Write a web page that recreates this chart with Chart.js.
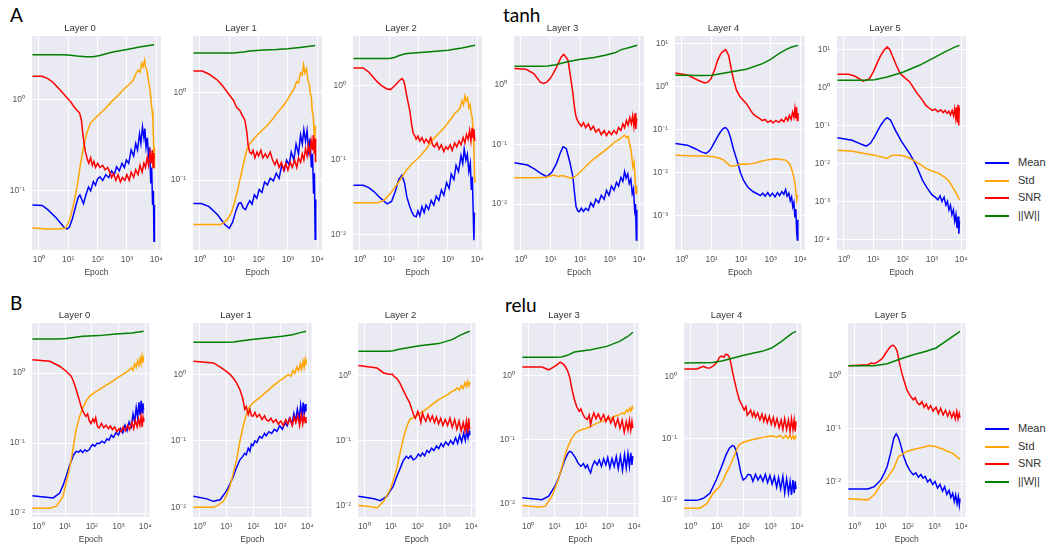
<!DOCTYPE html>
<html>
<head>
<meta charset="utf-8">
<script src="https://cdn.jsdelivr.net/npm/chart.js@4.4.0/dist/chart.umd.min.js"></script>
<style>
html,body{margin:0;padding:0;background:#fff;}
#fig{position:relative;width:1048px;height:548px;overflow:hidden;font-family:'Liberation Sans',Arial,sans-serif;}
.panel{position:absolute;}
.big{position:absolute;font-family:Lato,'Open Sans',sans-serif;font-size:19px;line-height:19px;color:#000;white-space:nowrap;}
.leg{position:absolute;left:985px;width:60px;font-size:11px;color:#333;}
.leg div{position:relative;height:17.6px;}
.leg i{position:absolute;left:0;top:8px;width:24px;height:2px;}
.leg span{position:absolute;left:33px;top:2px;line-height:13px;}
</style>
</head>
<body>
<div id="fig">
  <div class="big" style="left:10px;top:5px">A</div>
  <div class="big" style="left:503px;top:5px">tanh</div>
  <div class="big" style="left:10px;top:293px">B</div>
  <div class="big" style="left:505px;top:295px">relu</div>
  <div class="leg" id="legA" style="top:154px"></div>
  <div class="leg" id="legB" style="top:420px"></div>
</div>
<script>
/* Per-layer gradient statistics, tanh vs relu — log/log panels */

// ── Labels & ticks ──────────────────────────────────────────────────────────
const LAYERS = ['Layer 0','Layer 1','Layer 2','Layer 3','Layer 4','Layer 5'];
const SERIES = ['Mean','Std','SNR','||W||'];
const X_TICKS = [1,10,100,1000,10000];
const X_TICK_LABELS = ['10⁰','10¹','10²','10³','10⁴'];
const Y_DECADES = [1e-4,1e-3,1e-2,1e-1,1,10];
const Y_DECADE_LABELS = ['10⁻⁴','10⁻³','10⁻²','10⁻¹','10⁰','10¹'];
const X_LIMITS = [0.58,14500];
const TANH_YLIM = [[0.0224,4.98],[0.0158,4.5],[0.0063,4.55],[0.0017,6.5],[0.000158,14.7],[0.0000525,22.9]];
const RELU_YLIM = [[0.00877,5.18],[0.00714,6.01],[0.0066,6.49],[0.00617,6.55],[0.00525,7.59],[0.00214,9.7]];

// ── tanh data: [epoch, value] per layer ────────────────────────────────────
const TANH_MEAN = [
  [[0.6,0.07],[1.3,0.069],[2,0.062],[4,0.05],[7,0.04],[9,0.038],[11,0.04],[14,0.05],[18,0.068],[22,0.085],[25,0.09],[29,0.08],[33,0.072],[40,0.09],[49,0.11],[58,0.1],[72,0.126],[85,0.115],[100,0.135],[120,0.142],[150,0.13],[190,0.15],[240,0.14],[300,0.165],[370,0.15],[445,0.183],[550,0.165],[680,0.2],[820,0.18],[960,0.217],[1150,0.2],[1400,0.28],[1700,0.24],[2000,0.33],[2300,0.28],[2700,0.42],[3000,0.33],[3400,0.5],[3800,0.38],[4100,0.48],[4500,0.3],[5000,0.38],[5500,0.22],[6000,0.3],[6500,0.12],[7000,0.18],[7500,0.07],[8000,0.1],[8400,0.028],[8700,0.07]],
  [[0.6,0.054],[1.1,0.054],[2,0.05],[4,0.04],[7,0.031],[10,0.028],[13,0.033],[17,0.045],[21,0.054],[25,0.055],[30,0.048],[36,0.046],[42,0.052],[50,0.058],[60,0.053],[72,0.068],[87,0.062],[105,0.078],[130,0.072],[160,0.095],[200,0.088],[250,0.105],[320,0.098],[400,0.12],[500,0.105],[620,0.15],[750,0.13],[900,0.17],[1100,0.15],[1300,0.21],[1600,0.17],[1900,0.26],[2300,0.2],[2700,0.33],[3100,0.26],[3500,0.38],[4000,0.28],[4500,0.37],[5100,0.22],[5700,0.3],[6300,0.14],[6900,0.2],[7500,0.07],[8000,0.12],[8500,0.021],[8900,0.06]],
  [[0.6,0.046],[1.3,0.046],[2,0.043],[3,0.038],[5,0.031],[8.5,0.026],[12,0.028],[16,0.038],[21,0.055],[27,0.063],[33,0.05],[40,0.032],[50,0.024],[60,0.02],[70,0.018],[83,0.0175],[95,0.021],[110,0.018],[130,0.024],[155,0.02],[180,0.025],[220,0.022],[270,0.029],[330,0.025],[400,0.033],[490,0.029],[600,0.04],[730,0.034],[900,0.05],[1100,0.042],[1300,0.065],[1600,0.055],[1900,0.085],[2300,0.07],[2800,0.115],[3200,0.09],[3600,0.14],[4100,0.1],[4600,0.12],[5200,0.07],[5800,0.09],[6300,0.04],[6800,0.06],[7300,0.02],[7700,0.0085],[8000,0.02]],
  [[0.6,0.049],[1.66,0.045],[3,0.038],[4.5,0.033],[7.5,0.0286],[11,0.034],[16,0.048],[21,0.07],[26.5,0.091],[30,0.088],[34,0.085],[45,0.05],[57,0.0286],[65,0.015],[73,0.009],[85,0.0076],[94,0.0074],[110,0.0085],[130,0.0075],[155,0.0085],[190,0.0078],[230,0.0105],[280,0.009],[340,0.012],[425,0.0105],[520,0.014],[650,0.012],[780,0.017],[950,0.014],[1150,0.02],[1400,0.017],[1700,0.023],[2000,0.02],[2400,0.028],[2800,0.024],[3200,0.035],[3600,0.027],[4100,0.032],[4600,0.022],[5200,0.026],[5800,0.015],[6400,0.018],[7000,0.008],[7500,0.01],[8000,0.0025],[8300,0.008]],
  [[0.6,0.047],[1.5,0.043],[2.7,0.036],[4.5,0.03],[6.6,0.0275],[9,0.033],[12,0.047],[16,0.068],[20,0.0875],[25,0.105],[30,0.11],[36,0.095],[43,0.067],[55,0.035],[72,0.0193],[95,0.01],[120,0.0066],[170,0.0045],[250,0.0036],[350,0.0032],[450,0.0029],[540,0.0033],[650,0.0028],[800,0.0034],[950,0.0028],[1150,0.0033],[1400,0.0027],[1700,0.0034],[2000,0.0029],[2400,0.0036],[2800,0.0031],[3200,0.004],[3600,0.0028],[4100,0.0033],[4600,0.0022],[5100,0.0027],[5600,0.0016],[6100,0.002],[6600,0.0009],[7100,0.0014],[7600,0.0004],[8000,0.00027],[8300,0.0008]],
  [[0.6,0.048],[1.9,0.041],[4,0.032],[5.8,0.0286],[8,0.034],[11,0.05],[18,0.102],[25,0.145],[30,0.162],[39,0.138],[57,0.075],[94,0.037],[175,0.0183],[290,0.0091],[480,0.0036],[700,0.0022],[1030,0.00147],[1300,0.0013],[1600,0.0011],[1900,0.0014],[2200,0.001],[2600,0.0013],[3000,0.0008],[3400,0.001],[3800,0.0006],[4300,0.0008],[4800,0.00045],[5400,0.0006],[6000,0.0003],[6600,0.00045],[7200,0.0002],[7800,0.0004],[8300,0.00014],[8700,0.0003]]
];
const TANH_STD = [
  [[0.6,0.039],[2,0.038],[5,0.038],[8,0.039],[10,0.044],[12,0.052],[15,0.07],[20,0.11],[25,0.18],[33,0.3],[42,0.42],[56,0.546],[80,0.62],[120,0.7],[200,0.82],[300,0.95],[445,1.07],[700,1.25],[1000,1.4],[1300,1.5],[1630,1.63],[2000,1.9],[2400,2.1],[2800,2.0],[3200,2.5],[3600,2.3],[4000,2.7],[4400,2.2],[4800,2.1],[5300,1.7],[5900,1.4],[6300,1.2],[6800,0.9],[7300,0.75],[7700,0.6],[8100,0.35],[8500,0.18],[8700,0.3]],
  [[0.6,0.031],[2,0.031],[5,0.031],[7,0.033],[9,0.036],[12,0.043],[15,0.055],[19,0.075],[23,0.1],[30,0.15],[39,0.22],[50,0.26],[65,0.29],[100,0.34],[180,0.41],[300,0.5],[450,0.6],[650,0.69],[1000,0.85],[1300,1.0],[1600,1.1],[2000,1.35],[2300,1.3],[2700,1.7],[3100,1.6],[3400,2.1],[3800,1.7],[4300,1.9],[4800,1.4],[5300,1.3],[5800,1.0],[6300,0.9],[6800,0.6],[7300,0.55],[7800,0.36],[8300,0.3],[8700,0.42]],
  [[0.6,0.027],[2,0.027],[4,0.027],[6.6,0.029],[11,0.036],[21,0.051],[39,0.074],[60,0.09],[107,0.11],[180,0.14],[290,0.185],[500,0.23],[800,0.28],[1300,0.36],[1700,0.42],[2200,0.46],[2600,0.5],[3000,0.62],[3400,0.55],[3800,0.72],[4200,0.62],[4700,0.68],[5200,0.5],[5700,0.55],[6200,0.42],[6700,0.38],[7200,0.25],[7700,0.15],[8100,0.06],[8400,0.05]],
  [[0.6,0.0275],[3,0.0275],[7,0.028],[12.5,0.0305],[18,0.029],[25,0.03],[34,0.0286],[50,0.027],[70,0.029],[94,0.033],[150,0.042],[256,0.054],[400,0.064],[700,0.079],[1100,0.095],[1500,0.11],[1950,0.117],[2500,0.13],[3200,0.142],[3700,0.13],[4200,0.135],[4700,0.103],[5300,0.08],[6100,0.042],[6700,0.05],[7300,0.025],[7800,0.015],[8200,0.02]],
  [[0.6,0.025],[3,0.024],[6,0.024],[12,0.023],[20,0.021],[26,0.0193],[35,0.016],[43,0.014],[60,0.014],[92,0.0156],[150,0.0155],[250,0.016],[450,0.018],[690,0.0193],[1000,0.02],[1500,0.0207],[2200,0.02],[3200,0.0193],[4000,0.017],[4600,0.0148],[5300,0.011],[6000,0.0079],[6800,0.005],[7600,0.0023],[8100,0.003]],
  [[0.6,0.0224],[2,0.021],[4,0.019],[11,0.0166],[18,0.015],[30,0.0135],[40,0.016],[50,0.0166],[83,0.0165],[137,0.015],[225,0.0123],[400,0.0095],[620,0.0074],[1000,0.0064],[1700,0.0055],[2800,0.0043],[3700,0.0035],[4700,0.0027],[6500,0.0017],[8700,0.00112]]
];
const TANH_SNR = [
  [[0.6,1.8],[1.3,1.8],[2,1.7],[3,1.55],[5,1.3],[7,1.15],[9,1.05],[12,0.95],[15,0.85],[20,0.76],[24,0.72],[28,0.6],[32,0.4],[38,0.27],[45,0.22],[50,0.2],[58,0.23],[66,0.19],[75,0.21],[85,0.18],[100,0.2],[120,0.18],[150,0.19],[180,0.17],[220,0.18],[260,0.16],[300,0.14],[350,0.155],[420,0.13],[500,0.15],[600,0.125],[700,0.14],[850,0.13],[1000,0.15],[1200,0.13],[1400,0.16],[1700,0.14],[2000,0.17],[2400,0.15],[2800,0.19],[3300,0.16],[3800,0.2],[4300,0.18],[4900,0.23],[5500,0.19],[6100,0.26],[6700,0.2],[7300,0.28],[7800,0.18],[8300,0.26]],
  [[0.6,1.79],[1.2,1.78],[2,1.65],[3,1.5],[4,1.4],[6,1.2],[9,1.0],[14,0.82],[18,0.68],[23,0.63],[28,0.55],[34,0.49],[40,0.35],[44,0.25],[50,0.21],[57,0.2],[65,0.22],[75,0.18],[88,0.21],[100,0.19],[120,0.22],[140,0.18],[170,0.2],[200,0.18],[250,0.21],[300,0.17],[360,0.15],[420,0.17],[500,0.14],[600,0.16],[720,0.13],[850,0.155],[1000,0.13],[1200,0.16],[1400,0.14],[1700,0.17],[2000,0.14],[2300,0.18],[2700,0.16],[3100,0.2],[3500,0.17],[4000,0.23],[4500,0.19],[5000,0.25],[5600,0.2],[6200,0.28],[6800,0.22],[7400,0.33],[7900,0.2],[8400,0.3],[8800,0.16]],
  [[0.6,1.7],[1.3,1.7],[2,1.5],[3,1.25],[4,1.1],[5.2,1.0],[8,0.9],[11,0.875],[16,1.0],[22,1.15],[27,1.23],[31,1.15],[34,1.0],[40,0.7],[50,0.46],[58,0.3],[65,0.23],[75,0.21],[83,0.19],[95,0.21],[110,0.18],[130,0.2],[155,0.17],[180,0.19],[220,0.17],[260,0.2],[300,0.16],[350,0.15],[420,0.17],[500,0.14],[600,0.16],[720,0.13],[850,0.15],[1000,0.14],[1200,0.16],[1400,0.135],[1700,0.17],[2000,0.15],[2400,0.18],[2800,0.16],[3300,0.2],[3800,0.17],[4300,0.22],[4900,0.19],[5500,0.25],[6100,0.18],[6700,0.27],[7200,0.2],[7700,0.26],[8200,0.18]],
  [[0.6,1.85],[1.5,1.8],[2.7,1.53],[4.5,1.1],[5.8,1.04],[7.5,1.1],[9.7,1.26],[13,1.6],[16,1.97],[20,2.5],[23,2.9],[28,3.2],[33,2.9],[39,2.55],[47,1.4],[57,0.71],[65,0.4],[73,0.29],[85,0.24],[94,0.223],[110,0.2],[130,0.23],[155,0.19],[190,0.22],[230,0.175],[280,0.2],[340,0.16],[425,0.18],[520,0.145],[650,0.17],[780,0.14],[950,0.165],[1150,0.145],[1400,0.17],[1700,0.15],[2000,0.19],[2400,0.17],[2800,0.22],[3200,0.19],[3700,0.25],[4200,0.21],[4800,0.28],[5400,0.22],[6000,0.3],[6600,0.2],[7200,0.33],[7700,0.18],[8200,0.27]],
  [[0.6,2.04],[1.65,1.8],[2.5,1.55],[3.5,1.38],[5.8,1.19],[7.5,1.25],[9.6,1.5],[13,2.5],[16,4.0],[20,5.5],[23,6.2],[30,7.1],[38,5.2],[46,2.6],[56,1.38],[70,0.8],[92,0.57],[120,0.47],[150,0.4],[200,0.29],[250,0.23],[320,0.2],[420,0.18],[520,0.16],[650,0.17],[800,0.145],[1000,0.16],[1200,0.14],[1500,0.16],[1900,0.145],[2300,0.17],[2800,0.15],[3300,0.19],[3800,0.16],[4300,0.21],[4900,0.17],[5500,0.25],[6100,0.19],[6600,0.3],[7100,0.18],[7500,0.33],[8000,0.16],[8400,0.24]],
  [[0.6,2.24],[1.46,2.24],[2.4,1.99],[4.5,1.47],[7.5,1.72],[10,2.6],[14,4.7],[18,7],[23,9.6],[30,11.8],[37,10],[44,7.1],[60,4],[83,2.34],[120,1.8],[175,1.41],[290,0.77],[480,0.46],[620,0.34],[800,0.29],[1030,0.25],[1300,0.27],[1600,0.23],[2000,0.26],[2400,0.22],[2800,0.25],[3300,0.21],[3800,0.24],[4300,0.19],[4900,0.25],[5500,0.18],[6000,0.28],[6500,0.16],[7000,0.3],[7400,0.12],[7800,0.35],[8200,0.1],[8600,0.3]]
];
const TANH_W = [
  [[0.6,3.1],[5,3.1],[10,3.08],[20,3.0],[40,2.95],[70,2.95],[120,3.05],[300,3.3],[1000,3.55],[3000,3.8],[8500,4.0]],
  [[0.6,2.87],[5,2.87],[14,2.88],[30,2.95],[50,3.03],[150,3.1],[400,3.15],[1000,3.22],[3000,3.35],[8500,3.5]],
  [[0.6,2.27],[5,2.27],[10,2.28],[15,2.35],[22,2.5],[35,2.63],[65,2.7],[200,2.78],[1000,2.93],[3000,3.15],[8500,3.42]],
  [[0.6,2.02],[4,2.02],[8,2.04],[15,2.15],[34,2.39],[94,2.62],[300,2.85],[700,3.09],[1500,3.4],[2500,3.85],[5000,4.2],[8500,4.54]],
  [[0.6,1.8],[5,1.79],[10,1.8],[20,1.95],[43,2.15],[150,2.48],[530,3.35],[1000,4.2],[1900,5.7],[3500,7.3],[5200,8.15],[8500,8.9]],
  [[0.6,1.56],[5,1.57],[11,1.62],[30,1.91],[107,2.58],[375,3.87],[1030,5.8],[2800,8.7],[6000,11.7],[8700,13]]
];

// ── relu data ──────────────────────────────────────────────────────────────
const RELU_MEAN = [
  [[0.6,0.0177],[2,0.0168],[3.6,0.0164],[6.3,0.0193],[8.5,0.025],[11,0.0334],[14,0.045],[17,0.055],[21,0.068],[26,0.076],[32,0.074],[38,0.079],[46,0.073],[55,0.08],[65,0.076],[80,0.08],[95,0.09],[107,0.095],[130,0.09],[160,0.1],[190,0.098],[240,0.106],[300,0.1],[370,0.115],[440,0.11],[540,0.13],[650,0.12],[800,0.14],[1000,0.13],[1200,0.16],[1450,0.14],[1750,0.18],[2100,0.15],[2500,0.2],[3000,0.17],[3500,0.26],[4000,0.2],[4600,0.32],[5200,0.23],[5800,0.38],[6400,0.25],[7000,0.4],[7600,0.27],[8200,0.37],[8700,0.3]],
  [[0.6,0.0147],[1.9,0.0134],[3.3,0.0123],[5.9,0.013],[10,0.0175],[14,0.023],[18,0.029],[24,0.04],[32,0.052],[40,0.058],[48,0.065],[55,0.062],[65,0.078],[75,0.07],[85,0.09],[97,0.085],[115,0.1],[135,0.095],[170,0.117],[210,0.11],[260,0.13],[300,0.12],[380,0.138],[480,0.13],[600,0.15],[750,0.14],[950,0.17],[1200,0.15],[1500,0.19],[1800,0.17],[2200,0.22],[2700,0.18],[3200,0.26],[3700,0.2],[4300,0.3],[5000,0.21],[5700,0.35],[6400,0.24],[7100,0.38],[7800,0.25],[8500,0.36],[9000,0.28]],
  [[0.6,0.0138],[2.3,0.0126],[4,0.0118],[7,0.0138],[12,0.0196],[16,0.027],[21,0.0355],[28,0.048],[37,0.057],[45,0.053],[55,0.058],[68,0.05],[87,0.054],[105,0.062],[125,0.057],[150,0.064],[180,0.058],[220,0.07],[265,0.065],[330,0.076],[400,0.07],[500,0.082],[610,0.075],[750,0.09],[900,0.08],[1100,0.095],[1400,0.085],[1700,0.1],[2100,0.088],[2600,0.11],[3100,0.09],[3700,0.12],[4400,0.095],[5200,0.13],[6000,0.1],[6800,0.14],[7600,0.11],[8300,0.14],[8800,0.12]],
  [[0.6,0.0123],[3.3,0.0115],[5.9,0.013],[10,0.0186],[14,0.025],[18,0.034],[24,0.048],[32,0.0617],[37,0.065],[42,0.064],[50,0.058],[60,0.052],[75,0.043],[97,0.038],[120,0.042],[145,0.036],[170,0.04],[200,0.033],[225,0.03],[260,0.038],[320,0.046],[400,0.04],[480,0.048],[580,0.038],[700,0.05],[850,0.04],[1000,0.052],[1200,0.036],[1450,0.05],[1750,0.038],[2100,0.054],[2500,0.035],[3000,0.055],[3600,0.033],[4300,0.058],[5000,0.036],[5800,0.06],[6600,0.038],[7400,0.062],[8200,0.04],[8800,0.055]],
  [[0.6,0.0098],[1.75,0.0098],[3.1,0.0106],[5.4,0.0128],[9.4,0.0212],[13,0.03],[16.6,0.0396],[22,0.055],[29,0.0695],[38,0.077],[44,0.074],[51,0.065],[62,0.045],[78,0.0272],[95,0.021],[118,0.0226],[145,0.026],[180,0.0254],[220,0.02],[275,0.026],[340,0.021],[420,0.025],[520,0.02],[640,0.026],[780,0.019],[950,0.025],[1150,0.018],[1400,0.024],[1700,0.016],[2000,0.023],[2400,0.015],[2900,0.024],[3400,0.013],[4000,0.022],[4700,0.013],[5400,0.02],[6100,0.012],[6900,0.021],[7700,0.013],[8400,0.02],[9000,0.015]],
  [[0.6,0.0072],[3.2,0.0072],[5.6,0.008],[9.8,0.0107],[13,0.014],[17,0.0192],[23,0.035],[30,0.0657],[37,0.079],[43,0.07],[52,0.0528],[70,0.03],[92,0.0206],[120,0.016],[160,0.0134],[200,0.0145],[250,0.012],[310,0.0135],[370,0.0116],[450,0.0125],[550,0.0098],[680,0.011],[860,0.0088],[1050,0.01],[1300,0.0075],[1600,0.0088],[2000,0.0066],[2400,0.008],[2900,0.0057],[3500,0.0068],[4100,0.005],[4800,0.006],[5500,0.0042],[6200,0.0056],[7000,0.0038],[7800,0.0052],[8500,0.0036],[9000,0.0048]]
];
const RELU_STD = [
  [[0.6,0.0117],[2.7,0.0117],[4.8,0.0125],[8.4,0.0173],[11,0.0268],[14,0.04],[17,0.058],[21,0.095],[26,0.155],[35,0.24],[46,0.316],[60,0.39],[80,0.46],[120,0.52],[190,0.58],[350,0.67],[590,0.76],[900,0.85],[1400,0.95],[1900,1.02],[2500,1.1],[3000,1.2],[3500,1.1],[4000,1.35],[4600,1.2],[5200,1.5],[5800,1.3],[6400,1.6],[7000,1.35],[7600,1.75],[8200,1.4],[8700,1.7]],
  [[0.6,0.01],[3,0.01],[4.4,0.0104],[7.8,0.0123],[10,0.015],[13.6,0.0207],[18,0.032],[24,0.052],[32,0.1],[42,0.166],[55,0.25],[73,0.33],[100,0.38],[170,0.445],[300,0.55],[520,0.667],[900,0.8],[1300,0.88],[1600,0.94],[2000,1.0],[2500,0.95],[3000,1.15],[3500,1.05],[4100,1.3],[4800,1.15],[5500,1.45],[6200,1.2],[7000,1.6],[7700,1.3],[8400,1.7],[9000,1.4]],
  [[0.6,0.0099],[2,0.0095],[3,0.0091],[5.3,0.0115],[9.3,0.0175],[12,0.024],[16,0.0355],[21,0.06],[28,0.103],[38,0.16],[50,0.21],[65,0.225],[87,0.236],[130,0.27],[200,0.3],[350,0.36],[610,0.427],[1000,0.48],[1400,0.52],[1900,0.573],[2500,0.6],[3000,0.65],[3600,0.6],[4300,0.7],[5000,0.63],[5800,0.78],[6600,0.68],[7400,0.82],[8200,0.7],[8800,0.8]],
  [[0.6,0.0093],[2.5,0.0088],[4.4,0.0091],[7.8,0.013],[13.6,0.0237],[18,0.035],[24,0.055],[32,0.078],[42,0.1],[55,0.12],[73,0.134],[110,0.143],[170,0.151],[400,0.18],[920,0.204],[1500,0.22],[2100,0.235],[2800,0.244],[3500,0.26],[4300,0.25],[5200,0.29],[6000,0.27],[6800,0.31],[7600,0.28],[8400,0.32],[9000,0.3]],
  [[0.6,0.0073],[2.3,0.0073],[4.1,0.0086],[7.1,0.0128],[12.5,0.0165],[17,0.021],[22,0.0272],[30,0.035],[38,0.045],[50,0.06],[67,0.079],[90,0.085],[118,0.089],[200,0.095],[360,0.101],[600,0.105],[1100,0.11],[1700,0.105],[2300,0.112],[3000,0.1],[3700,0.113],[4500,0.1],[5300,0.112],[6100,0.098],[7000,0.11],[7800,0.097],[8600,0.108],[9100,0.1]],
  [[0.6,0.0047],[3.2,0.0045],[5.6,0.0056],[9.8,0.0087],[17,0.0116],[30,0.0179],[45,0.0296],[60,0.032],[92,0.0368],[160,0.04],[280,0.0426],[450,0.045],[650,0.0478],[900,0.046],[1200,0.045],[1500,0.0426],[2000,0.041],[2600,0.0384],[3500,0.036],[4600,0.0343],[6000,0.031],[7500,0.028],[9000,0.0264]]
];
const RELU_SNR = [
  [[0.6,1.55],[2.7,1.47],[6.3,1.25],[11,1.06],[17,0.9],[21,0.75],[26,0.58],[33,0.43],[40,0.33],[50,0.27],[60,0.24],[70,0.26],[80,0.21],[93,0.19],[110,0.22],[125,0.2],[140,0.23],[165,0.17],[190,0.164],[230,0.19],[280,0.165],[340,0.18],[420,0.16],[500,0.175],[590,0.155],[720,0.17],[870,0.145],[1040,0.16],[1250,0.145],[1500,0.17],[1800,0.15],[2200,0.18],[2600,0.155],[3200,0.2],[3700,0.16],[4300,0.21],[5000,0.17],[5600,0.22],[6300,0.18],[7000,0.24],[7700,0.17],[8300,0.23],[8800,0.2]],
  [[0.6,1.59],[3.3,1.5],[6,1.3],[10,1.12],[14,1.0],[18,0.89],[24,0.75],[32,0.59],[40,0.45],[48,0.3],[55,0.33],[65,0.25],[75,0.3],[85,0.24],[97,0.235],[115,0.27],[135,0.23],[170,0.25],[210,0.21],[260,0.24],[300,0.21],[370,0.2],[450,0.22],[550,0.19],[690,0.21],[850,0.18],[1050,0.2],[1300,0.17],[1600,0.21],[1900,0.18],[2300,0.22],[2800,0.17],[3300,0.23],[3800,0.19],[4500,0.24],[5200,0.17],[6000,0.25],[6800,0.18],[7600,0.24],[8400,0.19],[9000,0.23]],
  [[0.6,1.43],[3,1.31],[5.3,1.1],[9.3,1.04],[11,1.06],[13,0.97],[16,0.92],[21,0.78],[28,0.61],[38,0.47],[50,0.38],[60,0.3],[70,0.25],[80,0.22],[87,0.236],[100,0.28],[115,0.24],[130,0.19],[150,0.266],[175,0.22],[200,0.198],[240,0.25],[290,0.2],[350,0.24],[420,0.19],[500,0.23],[600,0.18],[720,0.22],[870,0.17],[1070,0.21],[1300,0.17],[1600,0.22],[1950,0.16],[2400,0.21],[2900,0.15],[3500,0.2],[4200,0.14],[5000,0.19],[5800,0.14],[6600,0.2],[7400,0.13],[8100,0.22],[8700,0.15]],
  [[0.6,1.35],[3.3,1.35],[5.9,1.22],[10,1.38],[13,1.5],[16,1.6],[20,1.52],[24,1.41],[30,1.2],[36,0.96],[45,0.6],[55,0.42],[68,0.32],[84,0.275],[97,0.3],[110,0.259],[135,0.22],[170,0.204],[200,0.24],[225,0.17],[260,0.22],[300,0.259],[360,0.21],[440,0.25],[550,0.2],[700,0.244],[850,0.19],[1050,0.23],[1300,0.18],[1600,0.22],[1950,0.16],[2400,0.21],[2900,0.15],[3500,0.2],[4200,0.13],[5000,0.19],[5800,0.14],[6600,0.2],[7400,0.14],[8200,0.19],[8800,0.15]],
  [[0.6,1.35],[1.75,1.35],[3.1,1.49],[4,1.42],[5.4,1.4],[7,1.5],[9.4,1.69],[12.5,2.12],[15,2.2],[18,2.1],[21,2.35],[25,2.31],[29,2.1],[33,1.69],[38,1.2],[44,0.9],[55,0.6],[67,0.43],[80,0.37],[103,0.29],[120,0.33],[135,0.24],[155,0.259],[180,0.29],[210,0.23],[240,0.27],[275,0.22],[330,0.26],[400,0.2],[480,0.25],[560,0.19],[640,0.235],[760,0.18],[900,0.23],[1070,0.17],[1270,0.22],[1470,0.16],[1750,0.21],[2100,0.15],[2500,0.2],[2900,0.14],[3400,0.21],[4000,0.14],[4700,0.2],[5400,0.13],[6100,0.21],[6900,0.14],[7700,0.2],[8400,0.13],[9000,0.19]],
  [[0.6,1.52],[3.2,1.59],[4.3,1.71],[5.6,1.66],[7.5,1.8],[9.8,1.98],[12,2.2],[15,2.64],[19,3.1],[23,3.52],[27,3.7],[30,3.63],[35,3.3],[40,2.84],[48,1.8],[60,1.1],[75,0.75],[92,0.537],[120,0.42],[160,0.347],[190,0.38],[230,0.3],[280,0.28],[340,0.32],[410,0.25],[490,0.29],[590,0.23],[720,0.27],[880,0.21],[1140,0.25],[1400,0.19],[1700,0.24],[2100,0.18],[2600,0.22],[3100,0.17],[3700,0.21],[4400,0.16],[5200,0.2],[6000,0.15],[6800,0.21],[7600,0.15],[8400,0.19],[9000,0.16]]
];
const RELU_W = [
  [[0.6,3.06],[5,3.06],[11,3.1],[46,3.34],[190,3.42],[780,3.61],[3200,3.73],[8700,3.94]],
  [[0.6,3.07],[10,3.07],[18,3.1],[73,3.37],[300,3.57],[1200,3.78],[2800,4.0],[5500,4.3],[9000,4.5]],
  [[0.6,2.37],[8,2.38],[12,2.43],[20,2.55],[37,2.67],[115,2.9],[610,3.12],[1900,3.59],[4300,4.29],[8700,4.83]],
  [[0.6,1.91],[10,1.91],[18,1.93],[30,2.05],[55,2.31],[225,2.51],[920,2.83],[2800,3.39],[5500,4.0],[9000,4.7]],
  [[0.6,1.69],[7.1,1.73],[15,1.82],[29,1.97],[118,2.31],[480,2.62],[1100,2.97],[2600,3.82],[6100,5.09],[9000,5.55]],
  [[0.6,1.52],[5.6,1.52],[17,1.66],[52,2.03],[160,2.45],[490,2.84],[1140,3.28],[2600,4.38],[6000,5.85],[9000,6.77]]
];

// ── Look ───────────────────────────────────────────────────────────────────
const COLORS = ['#0000ff','#ffa500','#ff0000','#008000'];
const FONT = "'Liberation Sans', Arial, sans-serif";
const YW = 34, RP = 6, TH = 13, XH = 30;   // y-axis width, right pad, title h, x-axis h
const ROW_A = {top:36,  height:214, lefts:[32,193,353,514,675,837], widths:[130,130,130,131,131,130]};
const ROW_B = {top:323, height:194, lefts:[32,193,358,522,684,848], widths:[119,120,119,118,119,119]};

const plotBg = {
  id:'plotBg',
  beforeDraw(c) {
    const a = c.chartArea, x = c.ctx;
    x.save(); x.fillStyle = '#eaeaf2';
    x.fillRect(a.left, a.top, a.right - a.left, a.bottom - a.top);
    x.restore();
  }
};

function axisStyle() {
  return { grid:{color:'#ffffff', lineWidth:1, drawTicks:false}, border:{display:false} };
}

function makePanel(left, top, w, h, title, ylim, series) {
  const fig = document.getElementById('fig');
  const box = document.createElement('div');
  box.className = 'panel';
  const cw = YW + w + RP, ch = TH + h + XH;
  box.style.left = (left - YW) + 'px'; box.style.top = (top - TH) + 'px';
  box.style.width = cw + 'px'; box.style.height = ch + 'px';
  const cv = document.createElement('canvas');
  cv.width = cw; cv.height = ch;
  cv.style.width = cw + 'px'; cv.style.height = ch + 'px';
  box.appendChild(cv); fig.appendChild(box);

  // ||W|| drawn last in matplotlib -> first dataset here (Chart.js paints first on top)
  const datasets = [3,2,1,0].map(i => ({
    label: SERIES[i], data: series[i], borderColor: COLORS[i],
    borderWidth: 1.5, pointRadius: 0, tension: 0, fill: false
  }));

  new Chart(cv, {
    type: 'line',
    data: { datasets },
    plugins: [plotBg],
    options: {
      responsive:false, animation:false, events:[],
      layout:{ padding:{top:0, right:RP, bottom:0, left:0} },
      plugins:{
        legend:{display:false}, tooltip:{enabled:false},
        title:{ display:true, text:title, color:'#333', font:{family:FONT, size:9.5, weight:'normal', lineHeight:1.2},
                padding:{top:0, bottom:1.6} }
      },
      scales:{
        x:{ type:'logarithmic', min:X_LIMITS[0], max:X_LIMITS[1], ...axisStyle(),
            afterBuildTicks: s => { s.ticks = X_TICKS.map(v => ({value:v})); },
            afterFit: s => { s.height = XH; },
            ticks:{ color:'#555', font:{family:FONT, size:8.5}, padding:5, maxRotation:0, autoSkip:false,
                    callback: v => X_TICK_LABELS[X_TICKS.indexOf(v)] },
            title:{ display:true, text:'Epoch', color:'#444', font:{family:FONT, size:8.5}, padding:{top:0, bottom:2.5} } },
        y:{ type:'logarithmic', min:ylim[0], max:ylim[1], ...axisStyle(),
            afterBuildTicks: s => { s.ticks = Y_DECADES.filter(v => v >= ylim[0] && v <= ylim[1]).map(v => ({value:v})); },
            afterFit: s => { s.width = YW; },
            ticks:{ color:'#555', font:{family:FONT, size:8.5}, padding:7, autoSkip:false,
                    callback: v => Y_DECADE_LABELS[Y_DECADES.indexOf(v)] } }
      }
    }
  });
}

// ── Build both rows ────────────────────────────────────────────────────────
LAYERS.forEach((name, i) => {
  makePanel(ROW_A.lefts[i], ROW_A.top, ROW_A.widths[i], ROW_A.height, name, TANH_YLIM[i],
            [TANH_MEAN[i], TANH_STD[i], TANH_SNR[i], TANH_W[i]]);
  makePanel(ROW_B.lefts[i], ROW_B.top, ROW_B.widths[i], ROW_B.height, name, RELU_YLIM[i],
            [RELU_MEAN[i], RELU_STD[i], RELU_SNR[i], RELU_W[i]]);
});

// ── Legends ────────────────────────────────────────────────────────────────
['legA','legB'].forEach(id => {
  const el = document.getElementById(id);
  SERIES.forEach((s, i) => {
    const row = document.createElement('div');
    const ln = document.createElement('i'); ln.style.background = COLORS[i];
    const tx = document.createElement('span'); tx.textContent = s;
    row.appendChild(ln); row.appendChild(tx); el.appendChild(row);
  });
});
</script>
</body>
</html>
